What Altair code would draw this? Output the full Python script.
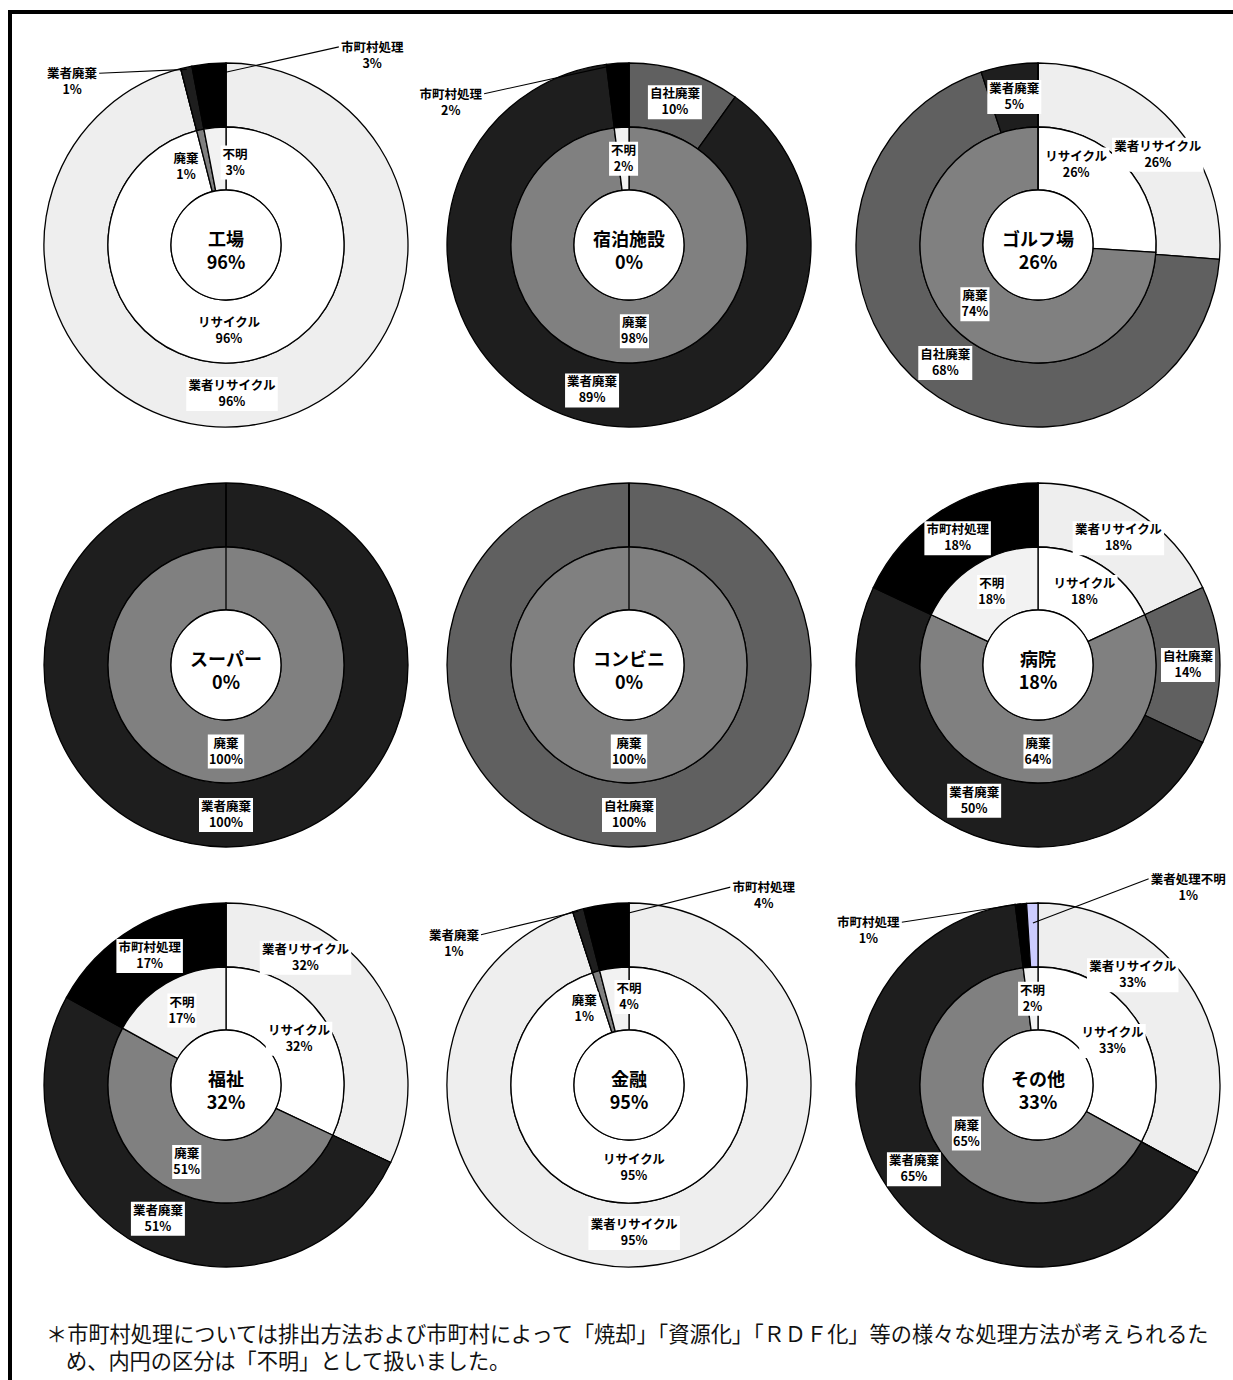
import math

import altair as alt
import pandas as pd

# ---------------------------------------------------------------- data
FACILITIES = ["工場", "宿泊施設", "ゴルフ場", "スーパー", "コンビニ", "病院", "福祉", "金融", "その他"]
RECYCLE_RATE = [96, 0, 26, 0, 0, 18, 32, 95, 33]

# outer ring: how the waste is actually handled
OUTER_SEGMENTS = ["業者リサイクル", "自社廃棄", "業者廃棄", "市町村処理", "業者処理不明"]
OUTER_VALUES = [
    [96, 0, 1, 3, 0],     # 工場
    [0, 10, 89, 2, 0],    # 宿泊施設
    [26, 68, 5, 0, 0],    # ゴルフ場
    [0, 0, 100, 0, 0],    # スーパー
    [0, 100, 0, 0, 0],    # コンビニ
    [18, 14, 50, 18, 0],  # 病院
    [32, 0, 51, 17, 0],   # 福祉
    [95, 0, 1, 4, 0],     # 金融
    [33, 0, 65, 1, 1],    # その他
]

# inner ring: recycled / disposed / unknown
INNER_SEGMENTS = ["リサイクル", "廃棄", "不明"]
INNER_VALUES = [
    [96, 1, 3],
    [0, 98, 2],
    [26, 74, 0],
    [0, 100, 0],
    [0, 100, 0],
    [18, 64, 18],
    [32, 51, 17],
    [95, 1, 4],
    [33, 65, 2],
]

FOOTNOTE = [
    "＊市町村処理については排出方法および市町村によって「焼却」「資源化」「ＲＤＦ化」等の様々な処理方法が考えられるた",
    "め、内円の区分は「不明」として扱いました。",
]

# ---------------------------------------------------------------- styling / layout
OUTER_COLORS = ["#eeeeee", "#606060", "#1e1e1e", "#000000", "#ccccff"]
INNER_COLORS = ["#ffffff", "#808080", "#f2f2f2"]

W, H = 1233, 1380
COL_X = [226, 629, 1038]
ROW_Y = [245, 665, 1085]
R_OUT, R_MID, R_IN = 182, 118, 55
LABEL_R_OUT, LABEL_R_IN = 150, 86.5
FONT = "Noto Sans CJK JP"
LABEL_SIZE = 12.5
LABEL_LINE = 16

# label placement tweaks (angle in degrees clockwise from 12 o'clock, radius in px)
LABEL_POLAR = {
    ("工場", "業者リサイクル"): (177.7, 149),
    ("工場", "リサイクル"): (178, 86),
    ("工場", "廃棄"): (333, 88),
    ("工場", "不明"): (6.3, 83),
    ("ゴルフ場", "業者リサイクル"): (53, 150),
    ("ゴルフ場", "リサイクル"): (25.4, 89),
    ("福祉", "業者リサイクル"): (32, 150),
    ("金融", "業者リサイクル"): (178, 148),
    ("金融", "リサイクル"): (176.6, 83),
    ("金融", "廃棄"): (329.4, 88),
    ("金融", "不明"): (0, 88),
    ("その他", "業者リサイクル"): (40.8, 145),
}
# labels pulled outside the ring with a leader line: (angle, radius, leader start radius)
CALLOUTS = {
    ("工場", "業者廃棄"): (316.6, 224, 180),
    ("工場", "市町村処理"): (37.7, 239, 170),
    ("宿泊施設", "市町村処理"): (308.6, 228, 181),
    ("金融", "業者廃棄"): (308.9, 225, 181),
    ("金融", "市町村処理"): (35.5, 232, 168),
    ("その他", "市町村処理"): (312.2, 229, 182),
    ("その他", "業者処理不明"): (37.3, 248, 162),
}


def text_width(s, size):
    w = 0.0
    for ch in s:
        if ch.isascii():
            w += size * (0.85 if ch == "%" else 0.58)
        else:
            w += size
    return w


def polar(cx, cy, deg, r):
    a = math.radians(deg)
    return cx + r * math.sin(a), cy - r * math.cos(a)


seg_rows, label_rows, leader_rows, center_rows = [], [], [], []
for i, fac in enumerate(FACILITIES):
    cx, cy = COL_X[i % 3], ROW_Y[i // 3]
    center_rows.append(dict(facility=fac, cx=cx, cy=cy, text=f"{fac}\n{RECYCLE_RATE[i]}%"))
    rings = (
        ("outer", OUTER_SEGMENTS, OUTER_VALUES[i], LABEL_R_OUT),
        ("inner", INNER_SEGMENTS, INNER_VALUES[i], LABEL_R_IN),
    )
    for ring, names, values, label_r in rings:
        total = sum(values)
        cum = 0
        for name, v in zip(names, values):
            start = cum / total
            cum += v
            end = cum / total
            seg_rows.append(dict(facility=fac, ring=ring, segment=name, value=v,
                                 start=start, end=end, cx=cx, cy=cy))
            if v == 0:
                continue
            mid_deg = (start + end) / 2 * 360
            ang, rad = LABEL_POLAR.get((fac, name), (mid_deg, label_r))
            if (fac, name) in CALLOUTS:
                ang, rad, lead_r = CALLOUTS[(fac, name)]
            lx, ly = polar(cx, cy, ang, rad)
            pct = f"{v}%"
            half_w = max(text_width(name, LABEL_SIZE), text_width(pct, LABEL_SIZE)) / 2 + 2
            label_rows.append(dict(facility=fac, segment=name, text=f"{name}\n{pct}",
                                   lx=lx, ly=ly, bx0=lx - half_w, bx1=lx + half_w,
                                   by0=ly - 17, by1=ly + 17))
            if (fac, name) in CALLOUTS:
                sx, sy = polar(cx, cy, mid_deg, lead_r)
                ex = lx + half_w if sx > lx else lx - half_w
                leader_rows.append(dict(facility=fac, segment=name, x=sx, y=sy, x2=ex, y2=ly - 9))

seg_df = pd.DataFrame(seg_rows)
label_df = pd.DataFrame(label_rows)
leader_df = pd.DataFrame(leader_rows)
center_df = pd.DataFrame(center_rows)

# ---------------------------------------------------------------- chart
xs = alt.Scale(domain=[0, W], nice=False, zero=False)
ys = alt.Scale(domain=[0, H], nice=False, zero=False, reverse=True)
theta_scale = alt.Scale(domain=[0, 1], range=[0, 2 * math.pi])


def X(f):
    return alt.X(f, type="quantitative", scale=xs, axis=None)


def Y(f):
    return alt.Y(f, type="quantitative", scale=ys, axis=None)


ring_color = alt.Color(
    "segment:N",
    scale=alt.Scale(domain=OUTER_SEGMENTS + INNER_SEGMENTS, range=OUTER_COLORS + INNER_COLORS),
    legend=None,
)

outer_ring = alt.Chart(seg_df).transform_filter("datum.ring == 'outer'").mark_arc(
    radius=R_OUT, radius2=R_MID, stroke="black", strokeWidth=1.3
).encode(
    x=X("cx"), y=Y("cy"),
    theta=alt.Theta("start:Q", scale=theta_scale), theta2="end:Q",
    color=ring_color,
)

inner_ring = alt.Chart(seg_df).transform_filter("datum.ring == 'inner'").mark_arc(
    radius=R_MID, radius2=R_IN, stroke="black", strokeWidth=1.3
).encode(
    x=X("cx"), y=Y("cy"),
    theta=alt.Theta("start:Q", scale=theta_scale), theta2="end:Q",
    color=ring_color,
)

hub = alt.Chart(center_df).mark_arc(
    radius=R_IN, theta=0, theta2=2 * math.pi, fill="white", stroke="black", strokeWidth=1.3
).encode(x=X("cx"), y=Y("cy"))

leaders = alt.Chart(leader_df).mark_rule(color="black", strokeWidth=1.1).encode(
    x=X("x"), y=Y("y"), x2="x2:Q", y2="y2:Q"
)

label_boxes = alt.Chart(label_df).mark_rect(color="white").encode(
    x=X("bx0"), x2="bx1:Q", y=Y("by0"), y2="by1:Q"
)

# two-line labels: first line sits half a line above the label centre
labels = alt.Chart(label_df).mark_text(
    font=FONT, fontSize=LABEL_SIZE, fontWeight="bold", color="black",
    align="center", baseline="middle", lineBreak="\n", lineHeight=LABEL_LINE,
    dy=-LABEL_LINE / 2,
).encode(x=X("lx"), y=Y("ly"), text="text:N")

center_text = alt.Chart(center_df).mark_text(
    font=FONT, fontSize=18, fontWeight="bold", color="black",
    align="center", baseline="middle", lineBreak="\n", lineHeight=23, dy=-4,
).encode(x=X("cx"), y=Y("cy"), text="text:N")

note_df = pd.DataFrame({"line": FOOTNOTE})
note1 = alt.Chart(note_df).transform_filter(alt.datum.line == FOOTNOTE[0]).mark_text(
    font=FONT, fontSize=21.2, color="#111111", align="left", baseline="middle"
).encode(x=alt.value(46), y=alt.value(1336), text="line:N")
note2 = alt.Chart(note_df).transform_filter(alt.datum.line == FOOTNOTE[1]).mark_text(
    font=FONT, fontSize=21.2, color="#111111", align="left", baseline="middle"
).encode(x=alt.value(66), y=alt.value(1363), text="line:N")

frame = alt.Chart(pd.DataFrame({"k": [0]})).mark_rect(
    filled=False, stroke="black", strokeWidth=4
).encode(x=alt.value(10), x2=alt.value(W + 20), y=alt.value(12), y2=alt.value(H + 20))

chart = alt.layer(
    outer_ring, inner_ring, hub, leaders, label_boxes, labels, center_text, note1, note2, frame
).properties(
    width=W, height=H, padding=0, autosize=alt.AutoSizeParams(type="none"), background="white"
).configure_view(stroke=None)

chart.save("out.html", embed_options={"renderer": "svg", "actions": False})
